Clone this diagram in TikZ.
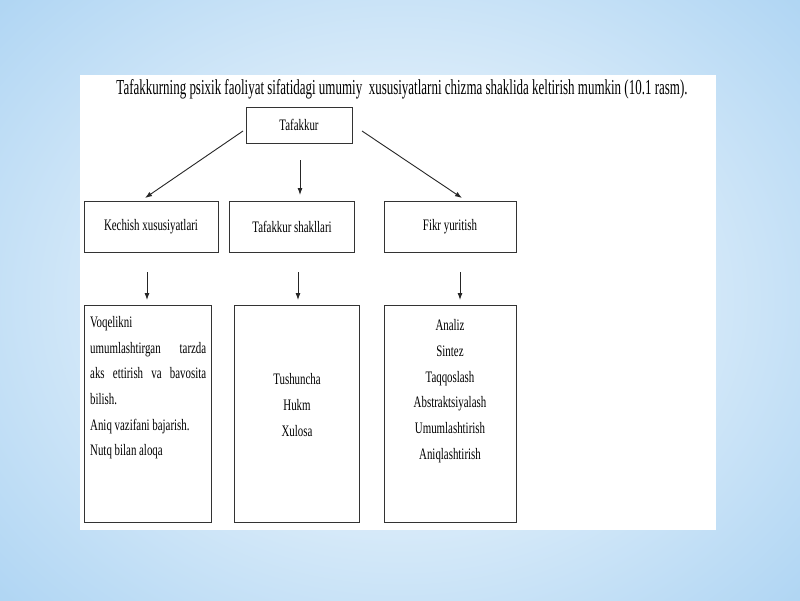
\documentclass[tikz,border=0pt]{standalone}
\usepackage{fontspec}
\setmainfont{Liberation Serif}
\usepackage{graphicx}
\usetikzlibrary{arrows.meta}
\newcommand{\sq}[1]{\scalebox{0.68}[1]{#1}}
\newcommand{\sj}[1]{\makebox[116pt][s]{\scalebox{0.68}[1]{\makebox[170.6pt][s]{#1}}}}
\begin{document}
\begin{tikzpicture}[x=1pt,y=-1pt,
  box/.style={draw=black!80,line width=0.9pt,fill=white,inner sep=0pt},
  arr/.style={-{Latex[length=7pt,width=5pt]},line width=0.9pt,black!85},
  txt/.style={font=\fontsize{16}{25.7}\selectfont,align=center,inner sep=0pt}]
\useasboundingbox (0,0) rectangle (800,600);
\shade[inner color=white,outer color={rgb,255:red,175;green,213;blue,243}] (-150,-150) rectangle (950,750);
\fill[white] (80,75) rectangle (716,530);
\node[txt] (title) at (402,89) {\resizebox{571pt}{15pt}{\fontsize{13}{15}\selectfont Tafakkurning psixik faoliyat sifatidagi umumiy\ \ xususiyatlarni chizma shaklida keltirish mumkin (10.1 rasm).}};
\node[box,minimum width=106pt,minimum height=36pt,txt] (t) at (299,125) {\sq{Tafakkur}};
\node[box,minimum width=134pt,minimum height=51pt,txt] (k) at (151,227) {\sq{Kechish xususiyatlari}};
\node[box,minimum width=125pt,minimum height=51pt,txt] (s) at (292,227) {\sq{Tafakkur shakllari}};
\node[box,minimum width=132pt,minimum height=51pt,txt] (f) at (450,227) {\sq{Fikr yuritish}};
\node[box,minimum width=127pt,minimum height=217pt] (kb) at (147.5,413.5) {};
\node[box,minimum width=125pt,minimum height=217pt] (sb) at (296.5,413.5) {};
\node[box,minimum width=132pt,minimum height=217pt] (fb) at (450,413.5) {};
\node[txt,align=left,anchor=north west] (kt) at (90,316) {\sq{Voqelikni}\\\sj{umumlashtirgan\hfill tarzda}\\\sj{aks ettirish va bavosita}\\\sq{bilish.}\\\sq{Aniq vazifani bajarish.}\\\sq{Nutq bilan aloqa}};
\node[txt] (st) at (297,405) {\sq{Tushuncha}\\\sq{Hukm}\\\sq{Xulosa}};
\node[txt] (ft) at (450,391) {\sq{Analiz}\\\sq{Sintez}\\\sq{Taqqoslash}\\\sq{Abstraktsiyalash}\\\sq{Umumlashtirish}\\\sq{Aniqlashtirish}};
\coordinate (a1) at (243,131); \coordinate (b1) at (145,198);
\coordinate (a2) at (300,160); \coordinate (b2) at (300,195);
\coordinate (a3) at (362,131); \coordinate (b3) at (462,198);
\draw[arr] (a1) -- (b1);
\draw[arr] (a2) -- (b2);
\draw[arr] (a3) -- (b3);
\coordinate (c1) at (147,272); \coordinate (d1) at (147,300);
\coordinate (c2) at (298,272); \coordinate (d2) at (298,300);
\coordinate (c3) at (460,272); \coordinate (d3) at (460,300);
\draw[arr] (c1) -- (d1);
\draw[arr] (c2) -- (d2);
\draw[arr] (c3) -- (d3);
\end{tikzpicture}
\end{document}
